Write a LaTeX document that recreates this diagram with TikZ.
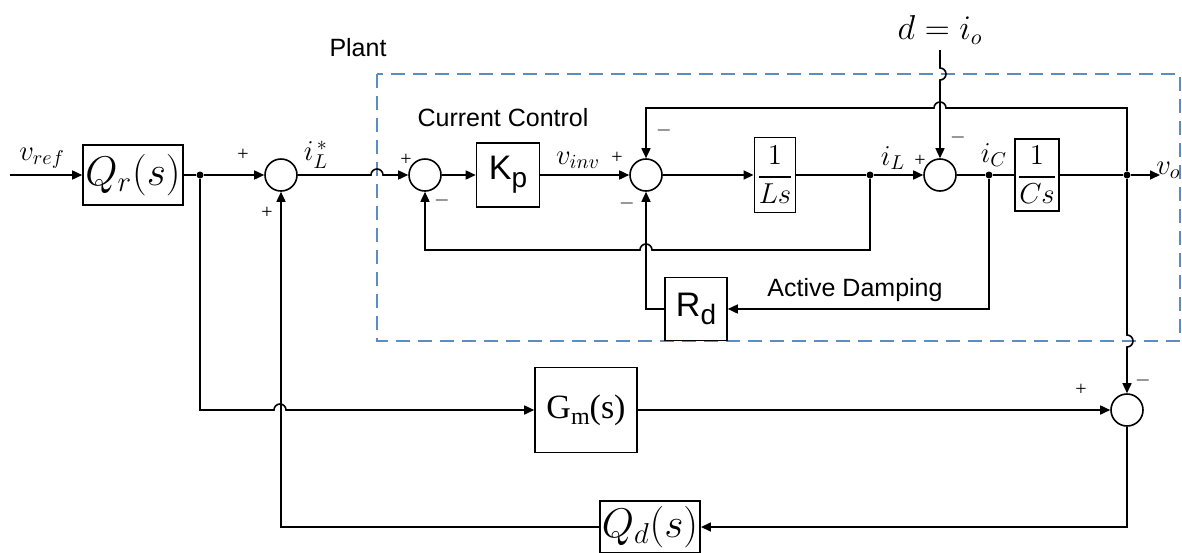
\documentclass[tikz,border=0pt]{standalone}
\usepackage{fontspec}
\setmainfont{Liberation Serif}
\setsansfont{Liberation Sans}
\usepackage{amsmath}
\usepackage{tikz}
\usetikzlibrary{
    arrows.meta,
    positioning,
    calc
}
\definecolor{plantblue}{rgb}{0.36, 0.55, 0.76}
\tikzstyle{block} = [
    rectangle,
    draw,
    line width=0.8pt,
    inner sep=1pt,
    font=\fontsize{14}{16}\selectfont
]
\tikzstyle{sumnode} = [
    circle,
    draw,
    line width=0.8pt,
    minimum size=16pt,
    inner sep=0pt
]
\tikzstyle{wire} = [
    line width=0.8pt
]
\tikzstyle{flow} = [
    wire,
    -{Triangle[length=5pt,width=4.5pt]}
]
\tikzstyle{dot} = [
    circle,
    fill,
    inner sep=0pt,
    minimum size=3.5pt
]
\tikzstyle{sign} = [
    inner sep=0pt,
    font=\fontsize{10}{12}\selectfont
]
\tikzstyle{tag} = [
    inner sep=0pt,
    font=\sffamily\fontsize{12.5}{14}\selectfont
]
\tikzstyle{signal} = [
    inner sep=0pt,
    font=\fontsize{14}{16}\selectfont
]
\tikzstyle{plant} = [
    draw=plantblue,
    line width=0.9pt,
    dash pattern=on 7pt off 4pt
]

\begin{document}
\begin{tikzpicture}[x=0.5pt, y=0.5pt]
    \useasboundingbox (0,0) rectangle (1182,-552);

    % Plant frame
    \draw[plant] (377,-74) rectangle (1180,-341);
    \node[tag] (plantlbl) at (358,-48) {Plant};
    \node[tag] (cclbl) at (503,-118) {Current Control};
    \node[tag] (adlbl) at (855,-290) {Active Damping};

    % Blocks
    \node[block, minimum width=50pt, minimum height=30pt, font=\fontsize{20}{22}\selectfont] (qr) at (133,-175) {$Q_r(s)$};
    \node[block, minimum width=31.5pt, minimum height=32pt, font=\sffamily\fontsize{17}{18}\selectfont] (kp) at (508,-175) {K\raisebox{-0.45ex}{\fontsize{14}{14}\selectfont p}};
    \node[block, minimum width=20.5pt, minimum height=37.5pt] (ls) at (775,-175) {$\dfrac{1}{Ls}$};
    \node[block, minimum width=21.5pt, minimum height=36pt] (cs) at (1037,-175) {$\dfrac{1}{Cs}$};
    \node[block, minimum width=31pt, minimum height=31.5pt, font=\sffamily\fontsize{17}{18}\selectfont] (rd) at (696,-309) {R\raisebox{-0.45ex}{\fontsize{14}{14}\selectfont d}};
    \node[block, minimum width=51pt, minimum height=42.5pt, font=\fontsize{17}{18}\selectfont] (gm) at (586,-410) {G\raisebox{-0.4ex}{\fontsize{12}{12}\selectfont m}(s)};
    \node[block, minimum width=46pt, minimum height=26pt, font=\fontsize{20}{22}\selectfont] (qd) at (650,-527) {$Q_d(s)$};

    % Summing junctions
    \node[sumnode] (s1) at (281,-175) {};
    \node[sumnode] (s2) at (425,-175) {};
    \node[sumnode] (s3) at (646,-175) {};
    \node[sumnode] (s4) at (940,-175) {};
    \node[sumnode] (s5) at (1127,-410) {};

    % Branch points
    \coordinate (in) at (10,-175);
    \node[dot] (b1) at (200,-175) {};
    \node[dot] (b2) at (870,-175) {};
    \node[dot] (b3) at (989,-175) {};
    \node[dot] (b4) at (1127,-175) {};
    \coordinate (out) at (1160,-175);
    \coordinate (dist) at (940,-50);

    % Signal labels
    \node[signal] (vref) at (42,-158) {$v_{ref}$};
    \node[signal] (ilref) at (316,-155) {$i_L^{\,*}$};
    \node[signal] (vinv) at (578,-160) {$v_{inv}$};
    \node[signal] (il) at (893,-158) {$i_L$};
    \node[signal] (ic) at (994,-155) {$i_C$};
    \node[signal, anchor=east] (vo) at (1181,-170) {$v_o$};
    \node[signal, font=\fontsize{16}{18}\selectfont] (dlbl) at (940,-30) {$d = i_o$};

    % Signs
    \node[sign] (p1) at (243,-155) {+};
    \node[sign] (p2) at (267,-213) {+};
    \node[sign] (p3) at (406,-160) {+};
    \node[sign] (m1) at (442,-200) {$-$};
    \node[sign] (p4) at (617,-158) {+};
    \node[sign] (m2) at (664,-130) {$-$};
    \node[sign] (m3) at (627,-203) {$-$};
    \node[sign] (p5) at (920,-161) {+};
    \node[sign] (m4) at (958,-137) {$-$};
    \node[sign] (p6) at (1081,-390) {+};
    \node[sign] (m5) at (1143,-380) {$-$};

    % Forward path
    \draw[flow] (in) -- (qr);
    \draw[wire] (qr) -- (b1);
    \draw[flow] (b1) -- (s1);
    \draw[flow] (s1) -- (371,-175) arc[start angle=180, end angle=0, radius=3pt] -- (s2);
    \draw[flow] (s2) -- (kp);
    \draw[flow] (kp) -- (s3);
    \draw[flow] (s3) -- (ls);
    \draw[wire] (ls) -- (b2);
    \draw[flow] (b2) -- (s4);
    \draw[wire] (s4) -- (b3) -- (cs);
    \draw[wire] (cs) -- (b4);
    \draw[flow] (b4) -- (out);
    \draw[flow] (dist) -- (940,-68) arc[start angle=90, end angle=-90, radius=3pt] -- (s4);

    % Inner loops
    \draw[flow] (b4) |- (946,-108) arc[start angle=0, end angle=180, radius=3pt] -| (s3);
    \draw[flow] (b2) |- (652,-250) arc[start angle=0, end angle=180, radius=3pt] -| (s2);
    \draw[flow] (b3) |- (rd);
    \draw[flow] (rd) -| (s3);

    % Outer loop
    \draw[flow] (b4) -- (1127,-335) arc[start angle=90, end angle=-90, radius=3pt] -- (s5);
    \draw[flow] (b1) |- (274,-410) arc[start angle=180, end angle=0, radius=3pt] -- (gm);
    \draw[flow] (gm) -- (s5);
    \draw[flow] (s5) |- (qd);
    \draw[flow] (qd) -| (s1);
\end{tikzpicture}
\end{document}
